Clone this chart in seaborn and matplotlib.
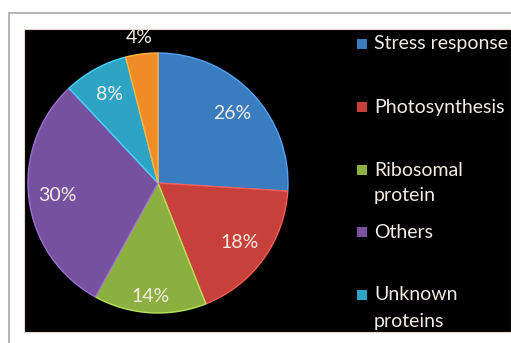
import matplotlib
matplotlib.use("Agg")
import matplotlib.pyplot as plt
import matplotlib.colors as mcolors
from matplotlib.patches import Rectangle
import seaborn as sns

# Datos del gráfico
categorias = ["Stress response", "Photosynthesis", "Ribosomal\nprotein", "Others",
              "Unknown\nproteins", "Other"]
porcentajes = [26, 18, 14, 30, 8, 4]
colores = ["#3a7cc0", "#c8403a", "#8cb040", "#7551a0", "#2ea4c4", "#f08c28"]
en_leyenda = 5  # la última categoría no aparece en la leyenda (cortada)

sns.set_theme(style="white")
plt.rcParams['font.family'] = ['Lato', 'DejaVu Sans']

W, H = 511, 343
fig = plt.figure(figsize=(W / 100, H / 100), dpi=100)
fig.patch.set_facecolor("white")

# marco gris y fondo negro
fig.add_artist(plt.Line2D([9 / W, 9 / W], [0, 1 - 13 / H], color="#a8a8a8", lw=1.2, zorder=-10))
fig.add_artist(plt.Line2D([9 / W, 1], [1 - 13 / H, 1 - 13 / H], color="#a8a8a8", lw=1.2, zorder=-10))
fig.add_artist(Rectangle((24 / W, 1 - 332 / H), 1 - 24 / W, (332 - 29) / H,
                         transform=fig.transFigure, facecolor="black",
                         edgecolor="#e8d8cc", lw=0.8, zorder=-10))

# pie
cx, cy, r = 158, 183, 130
ax = fig.add_axes([(cx - r) / W, (H - cy - r) / H, 2 * r / W, 2 * r / H])
ax.set_facecolor("none")
ax.set_zorder(5)

wedges, textos, autotextos = ax.pie(
    porcentajes, colors=colores, startangle=90, counterclock=False,
    autopct="%d%%", pctdistance=0.78, radius=1.0,
    textprops=dict(color="#f4ece4", fontsize=14))

for w, c in zip(wedges, colores):
    claro = mcolors.to_rgb(c)
    claro = tuple(min(1, v * 1.2 + 0.06) for v in claro)
    w.set_edgecolor(claro)
    w.set_linewidth(1.0)

# la etiqueta pequeña va por fuera
x, y = autotextos[-1].get_position()
autotextos[-1].set_position((x * 1.45, y * 1.45))
x, y = autotextos[2].get_position()
autotextos[2].set_position((x * 1.12, y * 1.12))

ax.set_xlim(-1, 1)
ax.set_ylim(-1, 1)
ax.set_aspect("equal")
ax.axis("off")

# leyenda
y_entrada = [44, 107, 170, 232, 295]
for i in range(en_leyenda):
    y0 = y_entrada[i]
    fig.add_artist(Rectangle((357 / W, 1 - (y0 + 5) / H), 10 / W, 10 / H,
                             transform=fig.transFigure, facecolor=colores[i],
                             edgecolor="none", zorder=6))
    for k, linea in enumerate(categorias[i].split("\n")):
        fig.text(374 / W, 1 - (y0 + 26 * k) / H, linea, color="#f4ece4",
                 fontsize=14, va="center", ha="left", zorder=6)

plt.savefig("out.png", dpi=100, facecolor="white")
